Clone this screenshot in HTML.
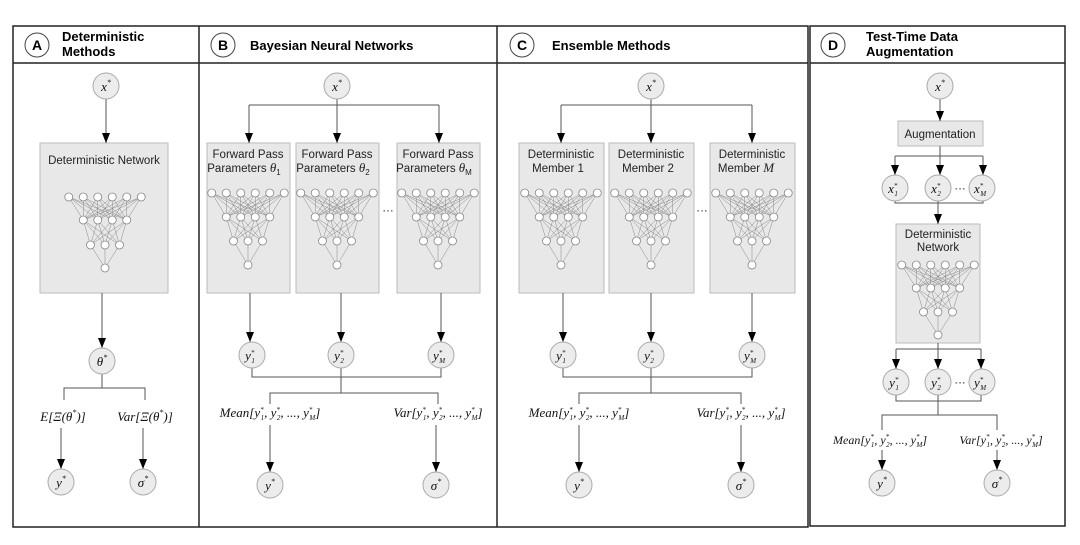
<!DOCTYPE html>
<html><head><meta charset="utf-8"><style>
body{margin:0;background:#fff}
svg text{font-family:"Liberation Sans",sans-serif}
svg .m, svg .m text, svg .m tspan{font-family:"Liberation Serif",serif !important;font-style:italic}
.m{font-size:13px}
.b{font-weight:bold;font-size:13px}
.t{font-size:11.5px;fill:#222}
</style></head><body>
<svg id="s" width="1080" height="540" viewBox="0 0 1080 540" xmlns="http://www.w3.org/2000/svg">
<defs>
<marker id="a" markerWidth="10" markerHeight="8" refX="10" refY="4" orient="auto" markerUnits="userSpaceOnUse" viewBox="0 0 10 8"><path d="M0,0 L10,4 L0,8z" fill="#000"/></marker>
</defs>
<rect x="0" y="0" width="1080" height="540" fill="#fff"/>
<g fill="none" stroke="#222" stroke-width="1.5">
<rect x="13" y="26" width="795" height="501"/>
<line x1="13" y1="63" x2="808" y2="63"/>
<line x1="199" y1="26" x2="199" y2="527"/>
<line x1="497" y1="26" x2="497" y2="527"/>
<rect x="810" y="26" width="255" height="500"/>
<line x1="810" y1="63" x2="1065" y2="63"/>
</g>
<g fill="#fff" stroke="#444" stroke-width="1">
<circle cx="37" cy="45" r="12"/><circle cx="223" cy="45" r="12"/><circle cx="522" cy="45" r="12"/><circle cx="833" cy="45" r="12"/>
</g>
<g class="b">
<text x="37" y="50" text-anchor="middle" font-size="14" font-weight="bold">A</text>
<text x="223" y="50" text-anchor="middle" font-size="14" font-weight="bold">B</text>
<text x="522" y="50" text-anchor="middle" font-size="14" font-weight="bold">C</text>
<text x="833" y="50" text-anchor="middle" font-size="14" font-weight="bold">D</text>
<text x="62" y="41" class="b">Deterministic</text><text x="62" y="56" class="b">Methods</text>
<text x="250" y="50" class="b">Bayesian Neural Networks</text>
<text x="552" y="50" class="b">Ensemble Methods</text>
<text x="866" y="41" class="b">Test-Time Data</text><text x="866" y="56" class="b">Augmentation</text>
</g>
<g fill="#e8e8e8" stroke="#bbb" stroke-width="1">
<rect x="40" y="143" width="128" height="150"/>
<rect x="207" y="143" width="83" height="150"/><rect x="296" y="143" width="83" height="150"/><rect x="397" y="143" width="83" height="150"/>
<rect x="519" y="143" width="85" height="150"/><rect x="609" y="143" width="85" height="150"/><rect x="710" y="143" width="85" height="150"/>
<rect x="898" y="121" width="85" height="25"/>
<rect x="896" y="224" width="84" height="119"/>
</g>
<g class="t" text-anchor="middle">
<text x="104" y="164">Deterministic Network</text>
<text x="248" y="158">Forward Pass</text><text x="244" y="172">Parameters <tspan class="m">θ</tspan><tspan font-size="8" dy="3">1</tspan></text>
<text x="337" y="158">Forward Pass</text><text x="333" y="172">Parameters <tspan class="m">θ</tspan><tspan font-size="8" dy="3">2</tspan></text>
<text x="438" y="158">Forward Pass</text><text x="434" y="172">Parameters <tspan class="m">θ</tspan><tspan font-size="8" dy="3">M</tspan></text>
<text x="561" y="158">Deterministic</text><text x="558" y="172">Member 1</text>
<text x="651" y="158">Deterministic</text><text x="648" y="172">Member 2</text>
<text x="752" y="158">Deterministic</text><text x="746" y="172">Member <tspan class="m">M</tspan></text>
<text x="940" y="138">Augmentation</text>
<text x="938" y="238">Deterministic</text><text x="938" y="251">Network</text>
<text x="388" y="214">···</text><text x="702" y="214">···</text>
<text x="960" y="192">···</text><text x="960" y="386">···</text>
</g>
<g id="nets"></g>
<g stroke="#555" stroke-width="1" fill="none">
<line x1="106" y1="99" x2="106" y2="143" marker-end="url(#a)"/>
<line x1="102" y1="293" x2="102" y2="348" marker-end="url(#a)"/>
<polyline points="102,374 102,388 64,388 64,400"/><polyline points="102,388 145,388 145,400"/>
<line x1="61" y1="428" x2="61" y2="469" marker-end="url(#a)"/>
<line x1="143" y1="428" x2="143" y2="469" marker-end="url(#a)"/>
<line x1="337" y1="99" x2="337" y2="143" marker-end="url(#a)"/>
<polyline points="249,105 439,105"/>
<line x1="249" y1="105" x2="249" y2="143" marker-end="url(#a)"/>
<line x1="439" y1="105" x2="439" y2="143" marker-end="url(#a)"/>
<line x1="250" y1="293" x2="250" y2="342" marker-end="url(#a)"/>
<line x1="341" y1="293" x2="341" y2="342" marker-end="url(#a)"/>
<line x1="441" y1="293" x2="441" y2="342" marker-end="url(#a)"/>
<polyline points="252,368 252,377 441,377 441,368"/><line x1="341" y1="368" x2="341" y2="393"/>
<polyline points="270,404 270,393 438,393 438,404"/>
<line x1="270" y1="425" x2="270" y2="472" marker-end="url(#a)"/>
<line x1="436" y1="425" x2="436" y2="472" marker-end="url(#a)"/>
<line x1="651" y1="99" x2="651" y2="143" marker-end="url(#a)"/>
<polyline points="561,105 752,105"/>
<line x1="561" y1="105" x2="561" y2="143" marker-end="url(#a)"/>
<line x1="752" y1="105" x2="752" y2="143" marker-end="url(#a)"/>
<line x1="563" y1="293" x2="563" y2="342" marker-end="url(#a)"/>
<line x1="651" y1="293" x2="651" y2="342" marker-end="url(#a)"/>
<line x1="752" y1="293" x2="752" y2="342" marker-end="url(#a)"/>
<polyline points="563,368 563,377 752,377 752,368"/><line x1="651" y1="368" x2="651" y2="393"/>
<polyline points="579,404 579,393 741,393 741,404"/>
<line x1="579" y1="425" x2="579" y2="472" marker-end="url(#a)"/>
<line x1="741" y1="425" x2="741" y2="472" marker-end="url(#a)"/>
<line x1="940" y1="99" x2="940" y2="121" marker-end="url(#a)"/>
<line x1="940" y1="146" x2="940" y2="175" marker-end="url(#a)"/>
<polyline points="895,156 983,156"/>
<line x1="895" y1="156" x2="895" y2="175" marker-end="url(#a)"/>
<line x1="983" y1="156" x2="983" y2="175" marker-end="url(#a)"/>
<polyline points="895,201 895,203 983,203 983,201"/>
<line x1="938" y1="201" x2="938" y2="224" marker-end="url(#a)"/>
<line x1="938" y1="343" x2="938" y2="369" marker-end="url(#a)"/>
<line x1="896" y1="349" x2="896" y2="369" marker-end="url(#a)"/>
<line x1="981" y1="349" x2="981" y2="369" marker-end="url(#a)"/>
<line x1="896" y1="349" x2="981" y2="349"/>
<polyline points="896,395 896,401 981,401 981,395"/><line x1="938" y1="395" x2="938" y2="415"/>
<polyline points="882,430 882,415 997,415 997,430"/>
<line x1="882" y1="450" x2="882" y2="470" marker-end="url(#a)"/>
<line x1="997" y1="450" x2="997" y2="470" marker-end="url(#a)"/>
</g>
<g fill="#ececec" stroke="#aaa" stroke-width="1">
<circle cx="106" cy="86" r="13"/><circle cx="102" cy="361" r="13"/><circle cx="61" cy="482" r="13"/><circle cx="143" cy="482" r="13"/>
<circle cx="337" cy="86" r="13"/><circle cx="252" cy="355" r="13"/><circle cx="341" cy="355" r="13"/><circle cx="441" cy="355" r="13"/><circle cx="270" cy="485" r="13"/><circle cx="436" cy="485" r="13"/>
<circle cx="651" cy="86" r="13"/><circle cx="563" cy="355" r="13"/><circle cx="651" cy="355" r="13"/><circle cx="752" cy="355" r="13"/><circle cx="579" cy="485" r="13"/><circle cx="741" cy="485" r="13"/>
<circle cx="940" cy="86" r="13"/><circle cx="895" cy="188" r="13"/><circle cx="938" cy="188" r="13"/><circle cx="982" cy="188" r="13"/>
<circle cx="896" cy="382" r="13"/><circle cx="938" cy="382" r="13"/><circle cx="982" cy="382" r="13"/><circle cx="882" cy="483" r="13"/><circle cx="997" cy="483" r="13"/>
</g>
<g class="m" text-anchor="middle" fill="#111">
<text x="106" y="91">x<tspan font-size="8" dy="-6">*</tspan></text>
<text x="102" y="366">θ<tspan font-size="8" dy="-6">*</tspan></text>
<text x="61" y="487">y<tspan font-size="8" dy="-6">*</tspan></text>
<text x="143" y="487">σ<tspan font-size="8" dy="-6">*</tspan></text>
<text x="63" y="421">E[Ξ(θ<tspan font-size="8" dy="-6">*</tspan><tspan dy="6">)]</tspan></text>
<text x="145" y="421">Var[Ξ(θ<tspan font-size="8" dy="-6">*</tspan><tspan dy="6">)]</tspan></text>
<text x="337" y="91">x<tspan font-size="8" dy="-6">*</tspan></text>
<text x="651" y="91">x<tspan font-size="8" dy="-6">*</tspan></text>
<text x="940" y="91">x<tspan font-size="8" dy="-6">*</tspan></text>
<text x="270" y="490">y<tspan font-size="8" dy="-6">*</tspan></text><text x="436" y="490">σ<tspan font-size="8" dy="-6">*</tspan></text>
<text x="579" y="490">y<tspan font-size="8" dy="-6">*</tspan></text><text x="741" y="490">σ<tspan font-size="8" dy="-6">*</tspan></text>
<text x="882" y="488">y<tspan font-size="8" dy="-6">*</tspan></text><text x="997" y="488">σ<tspan font-size="8" dy="-6">*</tspan></text>
</g>
<g class="m" fill="#111" font-size="13">
<text x="270" y="417" text-anchor="middle">Mean[y<tspan font-size="7" dy="-5">*</tspan><tspan font-size="7" dy="8" dx="-3">1</tspan><tspan dy="-3">, y</tspan><tspan font-size="7" dy="-5">*</tspan><tspan font-size="7" dy="8" dx="-3">2</tspan><tspan dy="-3">, ..., y</tspan><tspan font-size="7" dy="-5">*</tspan><tspan font-size="7" dy="8" dx="-3">M</tspan><tspan dy="-3">]</tspan></text>
<text x="438" y="417" text-anchor="middle">Var[y<tspan font-size="7" dy="-5">*</tspan><tspan font-size="7" dy="8" dx="-3">1</tspan><tspan dy="-3">, y</tspan><tspan font-size="7" dy="-5">*</tspan><tspan font-size="7" dy="8" dx="-3">2</tspan><tspan dy="-3">, ..., y</tspan><tspan font-size="7" dy="-5">*</tspan><tspan font-size="7" dy="8" dx="-3">M</tspan><tspan dy="-3">]</tspan></text>
<text x="579" y="417" text-anchor="middle">Mean[y<tspan font-size="7" dy="-5">*</tspan><tspan font-size="7" dy="8" dx="-3">1</tspan><tspan dy="-3">, y</tspan><tspan font-size="7" dy="-5">*</tspan><tspan font-size="7" dy="8" dx="-3">2</tspan><tspan dy="-3">, ..., y</tspan><tspan font-size="7" dy="-5">*</tspan><tspan font-size="7" dy="8" dx="-3">M</tspan><tspan dy="-3">]</tspan></text>
<text x="741" y="417" text-anchor="middle">Var[y<tspan font-size="7" dy="-5">*</tspan><tspan font-size="7" dy="8" dx="-3">1</tspan><tspan dy="-3">, y</tspan><tspan font-size="7" dy="-5">*</tspan><tspan font-size="7" dy="8" dx="-3">2</tspan><tspan dy="-3">, ..., y</tspan><tspan font-size="7" dy="-5">*</tspan><tspan font-size="7" dy="8" dx="-3">M</tspan><tspan dy="-3">]</tspan></text>
<text x="880" y="444" text-anchor="middle" font-size="12">Mean[y<tspan font-size="7" dy="-5">*</tspan><tspan font-size="7" dy="8" dx="-3">1</tspan><tspan dy="-3">, y</tspan><tspan font-size="7" dy="-5">*</tspan><tspan font-size="7" dy="8" dx="-3">2</tspan><tspan dy="-3">, ..., y</tspan><tspan font-size="7" dy="-5">*</tspan><tspan font-size="7" dy="8" dx="-3">M</tspan><tspan dy="-3">]</tspan></text>
<text x="1001" y="444" text-anchor="middle" font-size="12">Var[y<tspan font-size="7" dy="-5">*</tspan><tspan font-size="7" dy="8" dx="-3">1</tspan><tspan dy="-3">, y</tspan><tspan font-size="7" dy="-5">*</tspan><tspan font-size="7" dy="8" dx="-3">2</tspan><tspan dy="-3">, ..., y</tspan><tspan font-size="7" dy="-5">*</tspan><tspan font-size="7" dy="8" dx="-3">M</tspan><tspan dy="-3">]</tspan></text>
</g>
<g class="m" fill="#111" text-anchor="middle">
<text x="250" y="360">y<tspan font-size="7" dy="-5">*</tspan><tspan font-size="7" dy="8" dx="-3">1</tspan></text>
<text x="339" y="360">y<tspan font-size="7" dy="-5">*</tspan><tspan font-size="7" dy="8" dx="-3">2</tspan></text>
<text x="439" y="360">y<tspan font-size="7" dy="-5">*</tspan><tspan font-size="7" dy="8" dx="-3">M</tspan></text>
<text x="561" y="360">y<tspan font-size="7" dy="-5">*</tspan><tspan font-size="7" dy="8" dx="-3">1</tspan></text>
<text x="649" y="360">y<tspan font-size="7" dy="-5">*</tspan><tspan font-size="7" dy="8" dx="-3">2</tspan></text>
<text x="750" y="360">y<tspan font-size="7" dy="-5">*</tspan><tspan font-size="7" dy="8" dx="-3">M</tspan></text>
<text x="893" y="193">x<tspan font-size="7" dy="-5">*</tspan><tspan font-size="7" dy="8" dx="-3">1</tspan></text>
<text x="936" y="193">x<tspan font-size="7" dy="-5">*</tspan><tspan font-size="7" dy="8" dx="-3">2</tspan></text>
<text x="980" y="193">x<tspan font-size="7" dy="-5">*</tspan><tspan font-size="7" dy="8" dx="-3">M</tspan></text>
<text x="894" y="387">y<tspan font-size="7" dy="-5">*</tspan><tspan font-size="7" dy="8" dx="-3">1</tspan></text>
<text x="936" y="387">y<tspan font-size="7" dy="-5">*</tspan><tspan font-size="7" dy="8" dx="-3">2</tspan></text>
<text x="980" y="387">y<tspan font-size="7" dy="-5">*</tspan><tspan font-size="7" dy="8" dx="-3">M</tspan></text>
</g>
</svg>
<script>
(function(){
var g=document.getElementById('nets'),out='';
function net(cx,y0,dx,dys){
 var rows=[6,4,3,1],pts=[];
 for(var r=0;r<4;r++){var n=rows[r],a=[];for(var i=0;i<n;i++)a.push([cx+(i-(n-1)/2)*dx,y0+dys[r]]);pts.push(a);}
 for(var r=0;r<3;r++)for(var i=0;i<pts[r].length;i++)for(var j=0;j<pts[r+1].length;j++)
  out+='<line x1="'+pts[r][i][0]+'" y1="'+pts[r][i][1]+'" x2="'+pts[r+1][j][0]+'" y2="'+pts[r+1][j][1]+'" stroke="#888" stroke-width="0.5"/>';
 for(var r=0;r<4;r++)for(var i=0;i<pts[r].length;i++)
  out+='<circle cx="'+pts[r][i][0]+'" cy="'+pts[r][i][1]+'" r="4" fill="#fff" stroke="#888" stroke-width="0.8"/>';
}
net(105,197,14.5,[0,23,48,71]);
[248,337,438,561,651,752].forEach(function(c){net(c,193,14.5,[0,24,48,72]);});
net(938,265,14.5,[0,23,47,70]);
g.innerHTML=out;
})();
</script>
</body></html>
